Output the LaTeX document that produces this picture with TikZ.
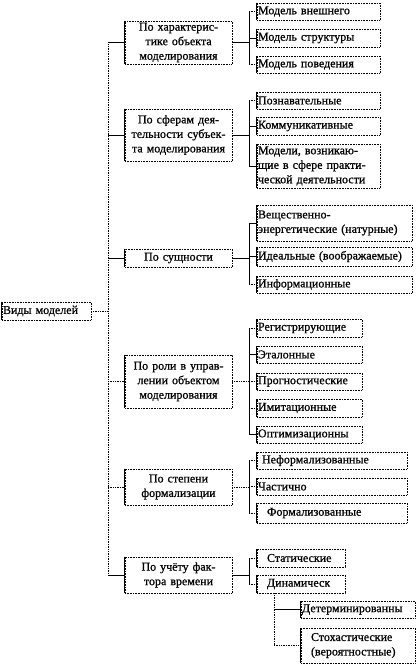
\documentclass[tikz,border=0pt]{standalone}
\usepackage{fontspec}
\setmainfont{Liberation Serif}
\newfontfamily\heavyfont{Liberation Serif}[FakeBold=0.8]
\hyphenpenalty=10000
\exhyphenpenalty=10000
\tikzset{
  x=1pt, y=-1pt,
  bx/.style={draw=black, densely dotted, line width=0.6pt, inner xsep=1pt, inner ysep=0pt,
    font=\heavyfont\fontsize{12}{14.5}\selectfont},
  cbx/.style={bx, align=center},
  lbx/.style={bx, align=left},
  sln/.style={line width=0.7pt},
  dln/.style={line width=0.7pt, densely dotted},
  edge/.style={line width=0.9pt, solid},
}
\newcommand{\mkbox}[7]{\node[#6, minimum width={#4-#2}, minimum height={#5-#3},
  text width=\fpeval{#4-#2-2}pt] (#1) at ({(#2+#4)/2},{(#3+#5)/2}) {#7};}
\begin{document}
\begin{tikzpicture}
\useasboundingbox (0,0) rectangle (418,666);
% root
\mkbox{root}{2}{302}{91}{320}{lbx}{Виды моделей}
% level 1
\mkbox{a1}{125}{21}{232}{64}{cbx}{По характерис-\\тике объекта\\моделирования}
\mkbox{a2}{125}{109}{232}{161}{cbx}{По сферам дея-\\тельности субъек-\\та моделирования}
\mkbox{a3}{125}{249}{232}{267}{cbx}{По сущности}
\mkbox{a4}{125}{355}{232}{408}{cbx}{По роли в управ-\\лении объектом\\моделирования}
\mkbox{a5}{125}{469}{232}{505}{cbx}{По степени\\формализации}
\mkbox{a6}{125}{557}{232}{593}{cbx}{По учёту фак-\\тора времени}
% group 1
\mkbox{b11}{257}{3}{380}{20}{lbx}{Модель внешнего}
\mkbox{b12}{257}{29}{380}{47}{lbx}{Модель структуры}
\mkbox{b13}{257}{56}{380}{73}{lbx}{Модель поведения}
% group 2
\mkbox{b21}{257}{92}{380}{109}{lbx}{Познавательные}
\mkbox{b22}{257}{117}{380}{135}{lbx}{Коммуникативные}
\mkbox{b23}{257}{144}{380}{188}{lbx}{Модели, возникаю-\\щие в сфере практи-\\ческой деятельности}
% group 3
\mkbox{b31}{257}{205}{412}{241}{lbx}{Вещественно-\\энергетические (натурные)}
\mkbox{b32}{257}{247}{412}{266}{lbx}{Идеальные (воображаемые)}
\mkbox{b33}{257}{276}{412}{293}{lbx}{Информационные}
% group 4
\mkbox{b41}{257}{319}{362}{337}{lbx}{Регистрирующие}
\mkbox{b42}{257}{346}{362}{363}{lbx}{Эталонные}
\mkbox{b43}{257}{373}{362}{390}{lbx}{Прогностические}
\mkbox{b44}{257}{399}{362}{417}{lbx}{Имитационные}
\mkbox{b45}{257}{426}{362}{443}{lbx}{Оптимизационны}
% group 5
\mkbox{b51}{257}{452}{407}{469}{lbx}{\hspace*{4pt}Неформализованные}
\mkbox{b52}{257}{478}{407}{495}{lbx}{Частично}
\mkbox{b53}{257}{503}{407}{523}{lbx}{\hspace*{9pt}Формализованные}
% group 6
\mkbox{b61}{257}{549}{345}{567}{lbx}{\hspace*{9pt}Статические}
\mkbox{b62}{257}{575}{345}{593}{lbx}{\hspace*{9pt}Динамическ}
\mkbox{c1}{301}{601}{415}{618}{lbx}{Детерминированны}
\mkbox{c2}{301}{628}{415}{663}{lbx}{\hspace*{9pt}Стохастические\\\hspace*{9pt}(вероятностные)}
% solid left edges
\foreach \n in {root,a1,a2,a3,a4,a5,a6,b11,b12,b13,b21,b22,b23,b31,b32,b33,b41,b42,b43,b44,b45,b51,b52,b53,b61,b62,c1,c2}
  \draw[edge] (\n.north west) -- (\n.south west);
% trunk
\coordinate (T) at (108,0);
\draw[dln] (a1.west -| T) -- (a6.west -| T);
\draw[dln] (root.east) -- (root.east -| T);
\draw[sln] (a1.west -| T) -- (a1.west);
\draw[sln] (a2.west -| T) -- (a2.west);
\draw[sln] (a3.west -| T) -- (a3.west);
\draw[dln] (a4.west -| T) -- (a4.west);
\draw[dln] (a5.west -| T) -- (a5.west);
\draw[sln] (a6.west -| T) -- (a6.west);
% brackets
\coordinate (K) at (249,0);
% group 1
\draw[sln] (a1.east) -- (a1.east -| K);
\draw[sln] (b11.west -| K) -- (b13.west -| K);
\draw[dln] (b11.west -| K) -- (b11.west);
\draw[sln] (b12.west -| K) -- (b12.west);
\draw[dln] (b13.west -| K) -- (b13.west);
% group 2
\draw[sln] (a2.east) -- (a2.east -| K);
\draw[sln] (b21.west -| K) -- (b23.west -| K);
\draw[dln] (b21.west -| K) -- (b21.west);
\draw[sln] (b22.west -| K) -- (b22.west);
\draw[sln] (b23.west -| K) -- (b23.west);
% group 3
\draw[sln] (a3.east) -- (a3.east -| K);
\draw[sln] (b31.west -| K) -- (b33.west -| K);
\draw[sln] (b31.west -| K) -- (b31.west);
\draw[sln] (b32.west -| K) -- (b32.west);
\draw[dln] (b33.west -| K) -- (b33.west);
% group 4
\draw[dln] (a4.east) -- (a4.east -| K);
\draw[sln] (b41.west -| K) -- (b45.west -| K);
\draw[dln] (b41.west -| K) -- (b41.west);
\draw[sln] (b42.west -| K) -- (b42.west);
\draw[dln] (b43.west -| K) -- (b43.west);
\draw[dln] (b44.west -| K) -- (b44.west);
\draw[sln] (b45.west -| K) -- (b45.west);
% group 5
\draw[dln] (a5.east) -- (a5.east -| K);
\draw[sln] (b51.west -| K) -- (b53.west -| K);
\draw[dln] (b51.west -| K) -- (b51.west);
\draw[dln] (b52.west -| K) -- (b52.west);
\draw[dln] (b53.west -| K) -- (b53.west);
% group 6
\draw[sln] (a6.east) -- (a6.east -| K);
\draw[sln] (b61.west -| K) -- (b62.west -| K);
\draw[dln] (b61.west -| K) -- (b61.west);
\draw[dln] (b62.west -| K) -- (b62.west);
% sub-bracket
\coordinate (S) at (274,0);
\draw[dln] (b62.south -| S) -- (c2.west -| S);
\draw[sln] (c1.west -| S) -- (c1.west);
\draw[dln] (c2.west -| S) -- (c2.west);
\end{tikzpicture}
\end{document}
